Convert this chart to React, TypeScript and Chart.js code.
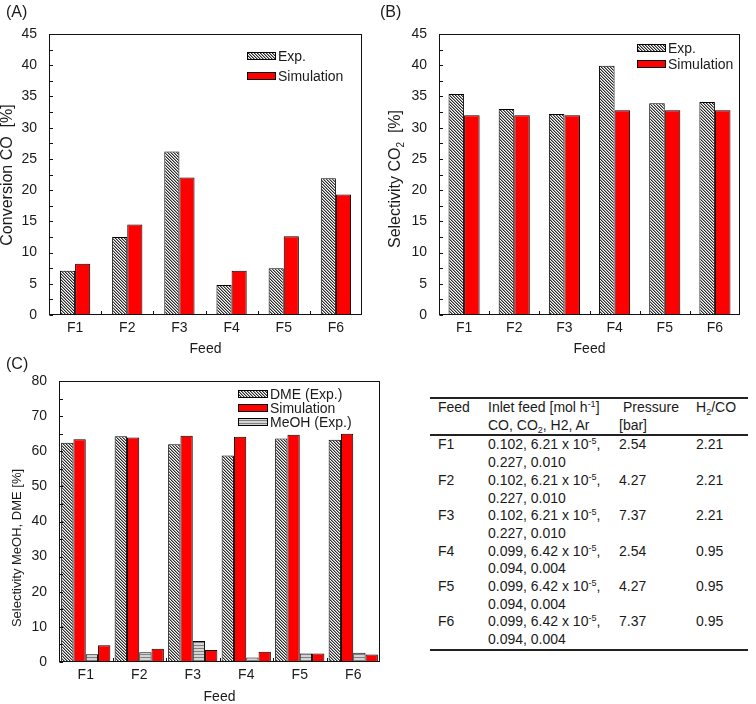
import React, { useEffect, useRef } from 'react';
import { Chart, registerables } from 'chart.js';

Chart.register(...registerables);

// ---------- data ----------
const feeds = ['F1', 'F2', 'F3', 'F4', 'F5', 'F6'];

const convCOExp = [7.1, 12.5, 26.2, 4.8, 7.5, 21.9];
const convCOSim = [8.2, 14.5, 22.0, 7.1, 12.6, 19.3];

const selCO2Exp = [35.4, 33.0, 32.2, 39.9, 33.9, 34.1];
const selCO2Sim = [32.0, 32.0, 32.0, 32.8, 32.8, 32.8];

const selDMEExp = [62.4, 64.3, 62.0, 58.8, 63.6, 63.3];
const selDMESim = [63.4, 63.9, 64.4, 64.1, 64.7, 65.0];
const selMeOHExp = [2.2, 2.8, 6.0, 1.3, 2.4, 2.6];
const selMeOHSim = [4.8, 3.8, 3.4, 2.9, 2.4, 2.1];

const yTicksAB = { max: 45, step: 5 };
const yTicksC = { max: 80, step: 10 };

// table
const tableCO = ['0.102', '0.102', '0.102', '0.099', '0.099', '0.099'];
const tableCO2 = ['6.21', '6.21', '6.21', '6.42', '6.42', '6.42'];
const tableCO2Exp = '-5';
const tableH2 = ['0.227', '0.227', '0.227', '0.094', '0.094', '0.094'];
const tableAr = ['0.010', '0.010', '0.010', '0.004', '0.004', '0.004'];
const tablePressure = ['2.54', '4.27', '7.37', '2.54', '4.27', '7.37'];
const tableH2CO = ['2.21', '2.21', '2.21', '0.95', '0.95', '0.95'];

const FONT = "'Liberation Sans', Arial, Helvetica, sans-serif";
const TEXT = '#1a1a1a';

function hatchPattern(): CanvasPattern | string {
  const c = document.createElement('canvas');
  c.width = 3;
  c.height = 3;
  const g = c.getContext('2d');
  if (!g) return '#888';
  g.fillStyle = '#ffffff';
  g.fillRect(0, 0, 3, 3);
  for (let y = 0; y < 3; y++) {
    for (let x = 0; x < 3; x++) {
      const m = (((x - y) % 3) + 3) % 3;
      if (m === 0) {
        g.fillStyle = '#2a2a2a';
        g.fillRect(x, y, 1, 1);
      } else if (m === 1) {
        g.fillStyle = '#9a9a9a';
        g.fillRect(x, y, 1, 1);
      }
    }
  }
  return g.createPattern(c, 'repeat') || '#888';
}

function stripePattern(): CanvasPattern | string {
  const c = document.createElement('canvas');
  c.width = 1;
  c.height = 3;
  const g = c.getContext('2d');
  if (!g) return '#aaa';
  g.fillStyle = '#d4d4d4';
  g.fillRect(0, 0, 1, 3);
  g.fillStyle = '#808080';
  g.fillRect(0, 0, 1, 1);
  return g.createPattern(c, 'repeat') || '#aaa';
}

const framePlugin = {
  id: 'frameTicks',
  afterDatasetsDraw(chart: any, _args: any, opts: any) {
    const { ctx, chartArea: a, scales } = chart;
    ctx.save();
    ctx.strokeStyle = '#111';
    ctx.lineWidth = 1;
    const l = Math.round(a.left) + 0.5;
    const t = Math.round(a.top) + 0.5;
    const r = Math.round(a.right) - 0.5;
    const b = Math.round(a.bottom) - 0.5;
    ctx.strokeRect(l, t, r - l, b - t);
    const ys = scales.y;
    const step = opts.step as number;
    for (let v = 0; v <= ys.max + 1e-9; v += step / 2) {
      const py = Math.round(ys.getPixelForValue(v)) + 0.5;
      ctx.beginPath();
      ctx.moveTo(l, py);
      ctx.lineTo(l + 3.5, py);
      ctx.stroke();
    }
    const xs = scales.x;
    const n = chart.data.labels.length;
    for (let i = 1; i < n; i++) {
      const px = Math.round((xs.getPixelForValue(i - 1) + xs.getPixelForValue(i)) / 2) + 0.5;
      ctx.beginPath();
      ctx.moveTo(px, b);
      ctx.lineTo(px, b - 3.5);
      ctx.stroke();
    }
    ctx.restore();
  },
};

const legendPlugin = {
  id: 'boxLegend',
  afterDraw(chart: any, _args: any, opts: any) {
    const { ctx } = chart;
    ctx.save();
    ctx.font = `14px ${FONT}`;
    ctx.textBaseline = 'middle';
    let y = opts.y as number;
    const count = opts.count as number;
    chart.data.datasets.slice(0, count).forEach((ds: any) => {
      const bx = opts.x as number;
      const bw = opts.w as number;
      ctx.fillStyle = ds.backgroundColor;
      ctx.fillRect(bx, y - 4, bw, 8);
      ctx.strokeStyle = '#000';
      ctx.lineWidth = 1;
      ctx.strokeRect(bx + 0.5, y - 4 + 0.5, bw - 1, 7);
      ctx.fillStyle = TEXT;
      ctx.fillText(ds.label, bx + bw + 2, y + 1);
      y += opts.gap;
    });
    ctx.restore();
  },
};

// vertical axis title with optional subscript parts
const yTitlePlugin = {
  id: 'yTitle',
  afterDraw(chart: any, _args: any, opts: any) {
    const { ctx } = chart;
    const size = opts.size as number;
    const parts = opts.parts as { t: string; sub?: boolean }[];
    const subSize = Math.round(size * 0.65);
    ctx.save();
    const widths = parts.map((p) => {
      ctx.font = `${p.sub ? subSize : size}px ${FONT}`;
      return ctx.measureText(p.t).width;
    });
    const total = widths.reduce((s, w) => s + w, 0);
    ctx.translate(opts.x, opts.yc);
    ctx.rotate(-Math.PI / 2);
    ctx.fillStyle = TEXT;
    ctx.textBaseline = 'middle';
    ctx.textAlign = 'left';
    let pos = -total / 2;
    parts.forEach((p, i) => {
      ctx.font = `${p.sub ? subSize : size}px ${FONT}`;
      ctx.fillText(p.t, pos, p.sub ? size * 0.3 : 0);
      pos += widths[i];
    });
    ctx.restore();
  },
};

type PanelCfg = {
  width: number;
  height: number;
  padTop: number;
  padRight: number;
  yWidth: number;
  xHeight: number;
  yMax: number;
  yStep: number;
  yTitle: { x: number; yc: number; size: number; parts: { t: string; sub?: boolean }[] };
  xTitlePad: number;
  catPct: number;
  legend: { x: number; y: number; gap: number; w: number; count: number };
  datasets: (hatch: any, stripe: any) => any[];
};

function Panel({ cfg, style }: { cfg: PanelCfg; style: React.CSSProperties }) {
  const ref = useRef<HTMLCanvasElement | null>(null);
  useEffect(() => {
    if (!ref.current) return;
    const hatch = hatchPattern();
    const stripe = stripePattern();
    const chart = new Chart(ref.current, {
      type: 'bar',
      data: { labels: feeds, datasets: cfg.datasets(hatch, stripe) },
      options: {
        animation: false,
        responsive: false,
        devicePixelRatio: 1,
        layout: { padding: { top: cfg.padTop, right: cfg.padRight, left: 0, bottom: 0 } },
        datasets: {
          bar: {
            categoryPercentage: cfg.catPct,
            barPercentage: 1,
            borderWidth: 1,
            borderColor: '#000',
          },
        } as any,
        plugins: {
          legend: { display: false },
          tooltip: { enabled: false },
          frameTicks: { step: cfg.yStep },
          boxLegend: cfg.legend,
          yTitle: cfg.yTitle,
        } as any,
        scales: {
          x: {
            grid: { display: false, drawTicks: false },
            border: { display: false },
            ticks: { color: TEXT, font: { family: FONT, size: 14 }, padding: 5 },
            title: {
              display: true,
              text: 'Feed',
              color: TEXT,
              font: { family: FONT, size: 14, lineHeight: 1 },
              padding: { top: 0, bottom: cfg.xTitlePad },
            },
            afterFit: (s: any) => {
              s.height = cfg.xHeight;
            },
          },
          y: {
            min: 0,
            max: cfg.yMax,
            grid: { display: false, drawTicks: false },
            border: { display: false },
            ticks: { stepSize: cfg.yStep, color: TEXT, font: { family: FONT, size: 14 }, padding: 12 },
            title: { display: false },
            afterFit: (s: any) => {
              s.width = cfg.yWidth;
            },
          },
        },
      },
      plugins: [framePlugin, legendPlugin, yTitlePlugin],
    });
    return () => chart.destroy();
  }, []);
  return (
    <canvas
      ref={ref}
      width={cfg.width}
      height={cfg.height}
      style={{ position: 'absolute', width: cfg.width, height: cfg.height, ...style }}
    />
  );
}

const cfgA: PanelCfg = {
  width: 378,
  height: 360,
  padTop: 34,
  padRight: 16,
  yWidth: 49,
  xHeight: 45,
  yMax: yTicksAB.max,
  yStep: yTicksAB.step,
  yTitle: { x: 8, yc: 175, size: 16, parts: [{ t: 'Conversion CO  [%]' }] },
  xTitlePad: 4,
  catPct: 0.58,
  legend: { x: 247, y: 56, gap: 20, w: 29, count: 2 },
  datasets: (hatch) => [
    { label: 'Exp.', data: convCOExp, backgroundColor: hatch },
    { label: 'Simulation', data: convCOSim, backgroundColor: '#ff0000' },
  ],
};

const cfgB: PanelCfg = {
  width: 378,
  height: 360,
  padTop: 34,
  padRight: 16,
  yWidth: 61,
  xHeight: 45,
  yMax: yTicksAB.max,
  yStep: yTicksAB.step,
  yTitle: {
    x: 18,
    yc: 179,
    size: 16,
    parts: [{ t: 'Selectivity CO' }, { t: '2', sub: true }, { t: '  [%]' }],
  },
  xTitlePad: 4,
  catPct: 0.62,
  legend: { x: 259, y: 48, gap: 16, w: 29, count: 2 },
  datasets: (hatch) => [
    { label: 'Exp.', data: selCO2Exp, backgroundColor: hatch },
    { label: 'Simulation', data: selCO2Sim, backgroundColor: '#ff0000' },
  ],
};

const cfgC: PanelCfg = {
  width: 400,
  height: 344,
  padTop: 21,
  padRight: 20,
  yWidth: 59,
  xHeight: 42,
  yMax: yTicksC.max,
  yStep: yTicksC.step,
  yTitle: { x: 17, yc: 188, size: 13, parts: [{ t: 'Selectivity MeOH, DME [%]' }] },
  xTitlePad: 0,
  catPct: 0.92,
  legend: { x: 238, y: 34, gap: 14, w: 30, count: 3 },
  datasets: (hatch, stripe) => [
    { label: 'DME (Exp.)', data: selDMEExp, backgroundColor: hatch },
    { label: 'Simulation', data: selDMESim, backgroundColor: '#ff0000' },
    { label: 'MeOH (Exp.)', data: selMeOHExp, backgroundColor: stripe },
    { label: 'Simulation MeOH', data: selMeOHSim, backgroundColor: '#ff0000' },
  ],
};

const sup: React.CSSProperties = { fontSize: 9, position: 'relative', top: -5, lineHeight: 0 };
const sub: React.CSSProperties = { fontSize: 9, position: 'relative', top: 3, lineHeight: 0 };

function FeedTable() {
  const cell: React.CSSProperties = { padding: 0, verticalAlign: 'top', textAlign: 'left', fontWeight: 'normal' };
  return (
    <table
      style={{
        position: 'absolute',
        left: 430,
        top: 397,
        width: 318,
        borderCollapse: 'collapse',
        tableLayout: 'fixed',
        fontFamily: FONT,
        fontSize: 14,
        lineHeight: '17.7px',
        color: TEXT,
        borderTop: '2px solid #222',
        borderBottom: '2px solid #222',
      }}
    >
      <colgroup>
        <col style={{ width: 58 }} />
        <col style={{ width: 131 }} />
        <col style={{ width: 77 }} />
        <col style={{ width: 52 }} />
      </colgroup>
      <thead>
        <tr style={{ borderBottom: '2px solid #222' }}>
          <th style={{ ...cell, paddingLeft: 8 }}>Feed</th>
          <th style={cell}>
            Inlet feed [mol h<span style={sup}>-1</span>]
            <br />
            CO, CO<span style={sub}>2</span>, H2, Ar
          </th>
          <th style={cell}>
            <span style={{ paddingLeft: 4 }}>Pressure</span>
            <br />
            [bar]
          </th>
          <th style={cell}>
            H<span style={sub}>2</span>/CO
          </th>
        </tr>
      </thead>
      <tbody>
        {feeds.map((f, i) => (
          <tr key={f}>
            <td style={{ ...cell, paddingLeft: 8 }}>{f}</td>
            <td style={cell}>
              {tableCO[i]}, {tableCO2[i]} x 10<span style={sup}>{tableCO2Exp}</span>,
              <br />
              {tableH2[i]}, {tableAr[i]}
            </td>
            <td style={cell}>{tablePressure[i]}</td>
            <td style={cell}>{tableH2CO[i]}</td>
          </tr>
        ))}
      </tbody>
    </table>
  );
}

export default function App() {
  const lbl: React.CSSProperties = {
    position: 'absolute',
    fontFamily: FONT,
    fontSize: 16,
    lineHeight: '16px',
    color: TEXT,
  };
  return (
    <div
      style={{
        position: 'absolute',
        left: 0,
        top: 0,
        width: 756,
        height: 704,
        background: '#fff',
        overflow: 'hidden',
      }}
    >
      <Panel cfg={cfgA} style={{ left: 0, top: 0 }} />
      <Panel cfg={cfgB} style={{ left: 378, top: 0 }} />
      <Panel cfg={cfgC} style={{ left: 0, top: 360 }} />
      <div style={{ ...lbl, left: 6, top: 4 }}>(A)</div>
      <div style={{ ...lbl, left: 380, top: 4 }}>(B)</div>
      <div style={{ ...lbl, left: 6, top: 356 }}>(C)</div>
      <FeedTable />
    </div>
  );
}
